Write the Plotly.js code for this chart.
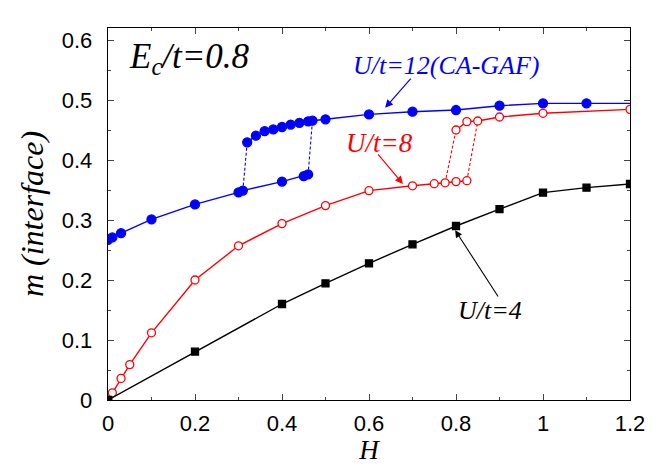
<!DOCTYPE html>
<html>
<head>
<meta charset="utf-8">
<script src="https://cdn.plot.ly/plotly-3.0.1.min.js"></script>
<style>
  body { margin: 0; background: #fff; }
  #plotDiv { width: 664px; height: 465px; }
</style>
</head>
<body>
<div id="plotDiv"></div>
<script>

//U/t=12 (CA-GAF), rama inferior y rama superior
var blueLowH = [0, 0.01, 0.03, 0.1, 0.2, 0.3, 0.31, 0.4, 0.45, 0.46];
var blueLowM = [0.267, 0.271, 0.278, 0.301, 0.326, 0.346, 0.349, 0.364, 0.373, 0.376];
var blueUpH = [0.32, 0.34, 0.36, 0.38, 0.4, 0.42, 0.44, 0.46, 0.47, 0.5, 0.6, 0.7, 0.8, 0.9, 1.0, 1.1, 1.3];
var blueUpM = [0.4295, 0.4406, 0.448, 0.451, 0.455, 0.459, 0.462, 0.4645, 0.4655, 0.4678, 0.476, 0.4805, 0.4833, 0.4905, 0.4944, 0.4944, 0.4944];

//U/t=8
var redLowH = [0, 0.01, 0.03, 0.05, 0.1, 0.2, 0.3, 0.4, 0.5, 0.6, 0.7, 0.75, 0.775, 0.8, 0.825];
var redLowM = [0, 0.012, 0.036, 0.059, 0.112, 0.2, 0.257, 0.294, 0.324, 0.349, 0.357, 0.3605, 0.362, 0.364, 0.3655];
var redUpH = [0.8, 0.825, 0.85, 0.9, 1.0, 1.2];
var redUpM = [0.45, 0.464, 0.465, 0.4717, 0.4778, 0.4844];

//U/t=4
var blackH = [0, 0.2, 0.4, 0.5, 0.6, 0.7, 0.8, 0.9, 1.0, 1.1, 1.2];
var blackM = [0, 0.0806, 0.16, 0.1944, 0.2278, 0.2594, 0.29, 0.318, 0.3456, 0.354, 0.36];

//etiquetas de los ejes
var xTicks = [0, 0.2, 0.4, 0.6, 0.8, 1, 1.2];
var xTickText = ['0', '0.2', '0.4', '0.6', '0.8', '1', '1.2'];
var yTicks = [0, 0.1, 0.2, 0.3, 0.4, 0.5, 0.6];
var yTickText = ['0', '0.1', '0.2', '0.3', '0.4', '0.5', '0.6'];

//saltos de la histeresis: (H de abajo, H de arriba)
var blueJumps = [[0.31, 0.32], [0.46, 0.47]];
var redJumps = [[0.775, 0.8], [0.825, 0.85]];

function jumpTrace(lowH, lowM, upH, upM, jumps, color){
  var x = [], y = [];
  for(let i=0; i<jumps.length; i++){
    var a = lowH.indexOf(jumps[i][0]);
    var b = upH.indexOf(jumps[i][1]);
    x.push(lowH[a], upH[b], null);
    y.push(lowM[a], upM[b], null);
  }
  return {
    x: x, y: y, mode: 'lines', type: 'scatter', hoverinfo: 'skip',
    line: { color: color, width: 1.1, dash: '3px,2px' }
  };
}

function branch(h, m, color, symbol, fill, size){
  return {
    x: h, y: m, mode: 'lines+markers', type: 'scatter',
    line: { color: color, width: 1.4 },
    marker: { symbol: symbol, size: size, color: fill, line: { color: color, width: 1.3 } }
  };
}

function makePlot(){
  var data = [
    jumpTrace(blueLowH, blueLowM, blueUpH, blueUpM, blueJumps, 'blue'),
    jumpTrace(redLowH, redLowM, redUpH, redUpM, redJumps, 'red'),
    branch(blueLowH, blueLowM, 'blue', 'circle', 'blue', 9),
    branch(blueUpH, blueUpM, 'blue', 'circle', 'blue', 9),
    branch(redLowH, redLowM, 'red', 'circle', 'white', 8),
    branch(redUpH, redUpM, 'red', 'circle', 'white', 8),
    branch(blackH, blackM, 'black', 'square', 'black', 7)
  ];

  var serif = '"Liberation Serif", "Times New Roman", serif';
  var axisCommon = {
    showgrid: false, zeroline: false, showline: true, linecolor: 'black', linewidth: 1.3,
    mirror: 'ticks', ticks: 'inside', ticklen: 6, tickwidth: 1, tickcolor: '#444',
    tickfont: { family: '"Liberation Sans", Arial, sans-serif', size: 22, color: 'black' },
    fixedrange: true
  };

  var layout = {
    width: 664, height: 465,
    margin: { l: 108, r: 34, t: 28, b: 65 },
    paper_bgcolor: 'white', plot_bgcolor: 'white',
    showlegend: false,
    xaxis: Object.assign({}, axisCommon, {
      range: [0, 1.2], tickvals: xTicks, ticktext: xTickText,
      minor: { dtick: 0.1, ticks: 'inside', ticklen: 3, tickcolor: '#444', showgrid: false },
      ticklabelstandoff: 3,
      title: { text: 'H', font: { family: serif, size: 27, style: 'italic', color: 'black' }, standoff: 8 }
    }),
    yaxis: Object.assign({}, axisCommon, {
      range: [0, 0.62], tickvals: yTicks, ticktext: yTickText,
      minor: { dtick: 0.05, ticks: 'inside', ticklen: 3, tickcolor: '#444', showgrid: false },
      ticklabelstandoff: 10,
      title: { text: 'm (interface)', font: { family: serif, size: 32, style: 'italic', color: 'black' }, standoff: 8 }
    }),
    annotations: [
      { x: 0.044, y: 0.57, xref: 'x', yref: 'y', xanchor: 'left', yanchor: 'middle', showarrow: false,
        text: 'E<sub>c</sub>/t=0.8', font: { family: serif, size: 35, style: 'italic', color: 'black' } },
      { x: 0.779, y: 0.557, xref: 'x', yref: 'y', showarrow: false,
        text: 'U/t=12(CA-GAF)', font: { family: serif, size: 26, style: 'italic', color: 'blue' } },
      { x: 0.625, y: 0.428, xref: 'x', yref: 'y', showarrow: false,
        text: 'U/t=8', font: { family: serif, size: 27, style: 'italic', color: 'red' } },
      { x: 0.878, y: 0.15, xref: 'x', yref: 'y', showarrow: false,
        text: 'U/t=4', font: { family: serif, size: 26, style: 'italic', color: 'black' } },
      //flechas
      { x: 0.637, y: 0.487, ax: 0.699, ay: 0.538, xref: 'x', yref: 'y', axref: 'x', ayref: 'y',
        text: '', showarrow: true, arrowhead: 2, arrowsize: 1.3, arrowwidth: 1.2, arrowcolor: 'blue' },
      { x: 0.678, y: 0.36, ax: 0.618, ay: 0.412, xref: 'x', yref: 'y', axref: 'x', ayref: 'y',
        text: '', showarrow: true, arrowhead: 2, arrowsize: 1.3, arrowwidth: 1.2, arrowcolor: 'red' },
      { x: 0.798, y: 0.283, ax: 0.899, ay: 0.17, xref: 'x', yref: 'y', axref: 'x', ayref: 'y',
        text: '', showarrow: true, arrowhead: 2, arrowsize: 1.3, arrowwidth: 1.1, arrowcolor: 'black' }
    ]
  };

  Plotly.newPlot('plotDiv', data, layout, { displayModeBar: false, staticPlot: true });
}

makePlot();
</script>
</body>
</html>
